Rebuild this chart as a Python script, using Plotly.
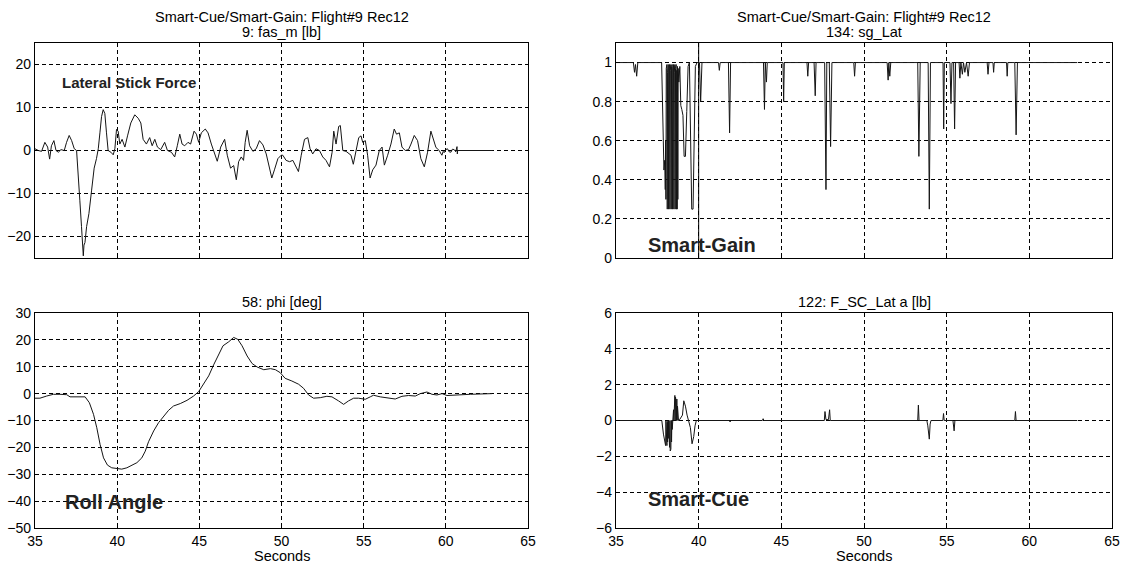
import plotly.graph_objects as go
from plotly.subplots import make_subplots

# ---- 9: fas_m [lb]  (lateral stick force) ----
fas_t = [35.0, 35.2, 35.4, 35.6, 35.77, 35.89, 36.0, 36.15, 36.28, 36.42, 36.58, 36.78, 36.92, 37.08,
         37.23, 37.39, 37.53, 37.63, 37.73, 37.83, 37.9, 37.94, 37.98, 38.04, 38.14, 38.28, 38.44, 38.6,
         38.74, 38.85, 38.95, 39.05, 39.15, 39.25, 39.35, 39.45, 39.62, 39.76, 39.86, 39.96, 40.06, 40.16,
         40.3, 40.47, 40.63, 40.83, 41.07, 41.28, 41.44, 41.58, 41.78, 41.98, 42.13, 42.29, 42.45, 42.65,
         42.89, 43.06, 43.3, 43.5, 43.66, 43.81, 43.95, 44.11, 44.31, 44.47, 44.68, 44.82, 44.96, 45.12,
         45.36, 45.53, 45.73, 45.93, 46.09, 46.3, 46.54, 46.7, 46.9, 47.09, 47.25, 47.39, 47.55, 47.69,
         47.79, 47.91, 48.06, 48.26, 48.46, 48.66, 48.87, 49.07, 49.27, 49.41, 49.57, 49.78, 49.98, 50.08,
         50.28, 50.49, 50.69, 50.89, 51.03, 51.2, 51.4, 51.6, 51.74, 51.9, 52.1, 52.31, 52.51, 52.71,
         52.92, 53.08, 53.18, 53.32, 53.48, 53.58, 53.73, 53.93, 54.13, 54.23, 54.37, 54.54, 54.7, 54.84,
         54.94, 55.1, 55.24, 55.39, 55.55, 55.75, 55.95, 56.12, 56.26, 56.46, 56.66, 56.86, 57.0, 57.17,
         57.33, 57.53, 57.73, 57.88, 58.08, 58.28, 58.48, 58.69, 58.89, 59.09, 59.23, 59.39, 59.5, 59.6,
         59.68, 59.76, 59.84, 59.9, 60.0, 60.1, 60.2, 60.31, 60.4, 60.51, 60.6, 60.68, 60.7, 60.72, 62.85]
fas_v = [0.4, 0.0, -0.2, 1.9, 0.8, -2.0, 1.1, 2.3, 0.0, -0.4, 0.2, 0.0, 1.9, 3.5,
         2.3, 0.4, 0.0, -4.9, -11.7, -17.7, -21.5, -24.5, -22.0, -21.4, -17.7, -14.7, -9.4, -4.1,
         -1.9, 0.4, 4.1, 7.9, 9.5, 8.6, 4.1, 0.0, -0.4, -1.0, 0.4, 4.9, 4.5, 1.5,
         2.6, 0.8, 3.4, 6.4, 8.3, 7.5, 6.4, 2.6, 1.5, 3.0, 1.1, 2.6, 0.8, 0.2,
         1.9, 0.0, -0.4, -1.5, 1.1, 3.8, 1.5, 1.1, 1.9, 1.5, 4.5, 3.8, 1.9, 4.1,
         5.0, 4.1, 1.5, -0.8, -2.5, 0.8, 2.6, -1.1, -4.1, -3.5, -6.8, -2.6, -1.5, -2.3,
         1.9, 4.7, 1.1, -0.2, 0.4, 2.3, 1.3, -0.8, -4.5, -6.4, -4.5, -1.9, -1.1, -1.1,
         -2.3, -2.6, -2.3, -3.8, -4.9, -1.1, 2.6, 3.0, 0.4, -0.8, 0.4, 0.0, -1.5, -2.3,
         -3.8, -0.4, 4.5, 1.5, 5.6, 5.8, 0.0, -0.2, -0.8, -1.1, -3.2, -0.4, 3.0, 3.4,
         1.9, 2.3, -1.1, -6.4, -4.5, -3.4, 0.0, 0.8, -3.4, -1.1, 1.5, 5.0, 3.8, 4.1,
         0.8, 0.0, 0.2, 1.5, 3.5, 2.3, -1.9, -3.8, -0.4, 4.5, 2.6, 0.8, 0.3, 0.0,
         -0.6, -1.1, -0.2, -0.5, 0.2, 0.4, -0.3, -0.4, 0.3, 0.2, -0.3, 0.9, -0.8, 0.0, 0.0]

# ---- 58: phi [deg]  (roll angle) ----
phi_t = [35.0, 35.3, 35.71, 36.12, 36.52, 36.93, 37.13, 37.44, 37.74, 38.05, 38.31, 38.56, 38.76,
         38.96, 39.17, 39.41, 39.67, 39.98, 40.28, 40.59, 40.89, 41.2, 41.5, 41.71, 41.91, 42.22, 42.52,
         42.83, 43.13, 43.43, 43.84, 44.25, 44.65, 44.96, 45.26, 45.57, 45.87, 46.18, 46.44, 46.79,
         47.09, 47.34, 47.6, 47.91, 48.21, 48.52, 48.92, 49.33, 49.63, 49.92, 50.22, 50.63, 51.04,
         51.34, 51.65, 51.95, 52.36, 52.76, 53.07, 53.47, 53.78, 54.08, 54.39, 54.69, 55.1, 55.4, 55.6,
         56.01, 56.42, 56.92, 57.33, 57.73, 58.14, 58.45, 58.85, 59.16, 59.46, 59.77, 60.07, 60.48,
         61.49, 62.81]
phi_v = [-1.7, -1.7, -0.9, -0.25, -0.25, -0.4, -1.2, -1.2, -1.0, -1.2, -3.4, -7.7, -12.7,
         -18.9, -23.9, -26.6, -27.6, -28.0, -28.1, -27.6, -26.6, -25.7, -23.9, -21.4, -17.9, -13.9, -10.8,
         -8.3, -6.2, -4.6, -3.7, -2.5, -0.9, 0.75, 3.7, 6.6, 10.7, 14.7, 17.8, 19.3,
         20.9, 20.2, 17.8, 14.0, 11.2, 9.9, 8.9, 9.3, 8.9, 7.8, 5.7, 4.7, 3.5,
         2.0, -0.5, -1.7, -1.5, -1.0, -1.2, -2.7, -4.0, -2.7, -1.7, -1.7, -2.1, -1.2, -0.6,
         -1.2, -1.5, -2.0, -1.0, -0.7, -0.9, 0.0, 0.6, -0.25, -0.5, 0.0, -0.7, -0.5,
         -0.25, 0.0]

# ---- 134: sg_Lat  (smart-gain) ----
sg_t = [35.0, 36.05, 36.12, 36.18, 36.25, 36.32, 37.76, 37.8, 37.85, 37.9, 37.95, 37.98, 38.0,
        38.02, 38.04, 38.06, 38.08, 38.10, 38.12, 38.14, 38.16, 38.18, 38.20, 38.22, 38.24, 38.26,
        38.28, 38.30, 38.32, 38.34, 38.36, 38.38, 38.40, 38.42, 38.44, 38.46, 38.48, 38.50, 38.52,
        38.54, 38.56, 38.58, 38.60, 38.62, 38.64, 38.66, 38.68, 38.70, 38.72, 38.74, 38.76,
        38.8, 38.86, 38.92, 38.98, 39.05, 39.12, 39.2, 39.28, 39.36, 39.44, 39.5, 39.58, 39.66, 39.72,
        39.8, 39.9, 40.05, 40.12, 40.2, 41.2, 41.25, 41.3, 41.8, 41.87, 41.93, 43.92, 43.98, 44.03,
        44.1, 44.15, 45.1, 45.14, 45.18, 46.55, 46.6, 46.65, 46.98, 47.05, 47.1, 47.62, 47.66, 47.7,
        47.75, 47.9, 47.98, 48.06, 49.38, 49.43, 49.48, 51.4, 51.46, 51.5, 51.56, 51.62, 53.25, 53.32,
        53.4, 53.88, 53.95, 54.02, 54.78, 54.82, 54.86, 55.2, 55.26, 55.32, 55.42, 55.48, 55.54, 55.75,
        55.8, 55.86, 55.95, 56.02, 56.1, 56.2, 56.3, 56.38, 57.45, 57.5, 57.56, 57.8, 57.84, 57.88,
        58.62, 58.66, 58.7, 59.12, 59.2, 59.28, 62.9]
sg_v = [1.0, 1.0, 0.95, 0.99, 0.93, 1.0, 1.0, 0.8, 0.62, 0.45, 0.5, 0.35, 0.6,
        0.3, 0.97, 0.25, 0.99, 0.25, 0.95, 0.25, 0.99, 0.25, 0.97, 0.25, 0.99, 0.25,
        0.96, 0.25, 0.99, 0.25, 0.98, 0.25, 0.99, 0.25, 0.97, 0.25, 0.99, 0.25, 0.95,
        0.25, 0.99, 0.25, 0.97, 0.25, 0.99, 0.25, 0.96, 0.25, 0.98, 0.3, 0.97,
        0.9, 0.98, 0.78, 0.76, 0.73, 0.52, 0.52, 0.75, 0.98, 1.0, 0.6, 0.25, 0.25, 0.5,
        0.98, 1.0, 1.0, 0.8, 1.0, 1.0, 0.96, 1.0, 1.0, 0.64, 1.0, 1.0, 0.76, 1.0,
        0.9, 1.0, 1.0, 0.8, 1.0, 1.0, 0.93, 1.0, 1.0, 0.83, 1.0, 1.0, 0.6, 0.35,
        1.0, 1.0, 0.57, 1.0, 1.0, 0.93, 1.0, 1.0, 0.91, 1.0, 0.93, 1.0, 1.0, 0.52,
        1.0, 1.0, 0.25, 1.0, 1.0, 0.66, 1.0, 1.0, 0.79, 1.0, 1.0, 0.66, 1.0, 1.0,
        0.92, 1.0, 0.94, 1.0, 0.95, 1.0, 0.93, 1.0, 1.0, 0.94, 1.0, 1.0, 0.95, 1.0,
        1.0, 0.93, 1.0, 1.0, 0.63, 1.0, 1.0]
sg_event_t = [40.0]

# ---- 122: F_SC_Lat a [lb]  (smart-cue) ----
sc_t = [35.0, 37.77, 37.87, 37.97,
        38.00, 38.02, 38.04, 38.06, 38.08, 38.10, 38.12, 38.14, 38.16, 38.18, 38.20, 38.22, 38.24,
        38.26, 38.28, 38.30, 38.32, 38.34, 38.36, 38.38, 38.40, 38.42,
        38.44, 38.46, 38.48, 38.50, 38.52, 38.54, 38.56, 38.58, 38.60, 38.62, 38.64, 38.66, 38.68,
        38.70, 38.72, 38.74, 38.76, 38.78,
        38.85, 38.95, 39.02, 39.1, 39.2, 39.3, 39.38, 39.5, 39.6, 39.7, 39.78, 39.86,
        41.85, 41.9, 41.95, 43.85, 43.9, 43.95, 47.6, 47.64, 47.7, 47.85, 47.92, 47.96,
        53.25, 53.29, 53.33, 53.8, 53.86, 53.95, 54.0, 54.05, 54.77, 54.81, 54.85,
        55.38, 55.45, 55.5, 59.12, 59.16, 59.2, 62.9]
sc_v = [0.0, 0.0, -0.76, -1.3,
        -1.4, 0.0, -1.3, 0.0, -1.4, -0.1, -1.2, 0.0, -1.0, 0.0, -1.3, 0.0, -1.5,
        0.0, -1.7, 0.0, -1.6, 0.0, -1.2, 0.0, -0.5, 0.0,
        0.3, 0.0, 0.6, 0.0, 0.8, 0.0, 1.4, 0.0, 1.3, 0.1, 1.0, 0.0, 1.2,
        0.0, 0.8, 0.0, 0.6, 0.0,
        0.05, 0.2, 0.3, 1.1, 0.8, 0.3, 0.0, -0.4, -1.3, -0.9, -0.3, 0.0,
        0.0, -0.08, 0.0, 0.0, 0.1, 0.0, 0.0, 0.5, 0.05, 0.05, 0.6, 0.0,
        0.0, 0.86, 0.0, 0.0, -0.3, -1.04, -0.2, 0.0, 0.0, 0.39, 0.0,
        0.0, -0.58, 0.0, 0.0, 0.5, 0.0, 0.0]

W, H = 1125, 566
FONT = "Liberation Sans, Arial, Helvetica, sans-serif"
LINE = dict(color="#151515", width=1)

fig = make_subplots(rows=2, cols=2)
fig.add_trace(go.Scatter(x=fas_t, y=fas_v, mode="lines", line=LINE), row=1, col=1)
fig.add_trace(go.Scatter(x=sg_t, y=sg_v, mode="lines", line=LINE), row=1, col=2)
fig.add_trace(go.Scatter(x=phi_t, y=phi_v, mode="lines", line=LINE), row=2, col=1)
fig.add_trace(go.Scatter(x=sc_t, y=sc_v, mode="lines", line=LINE), row=2, col=2)

# panel placement (pixels -> paper fractions)
x_left = [35 / W, 528 / W]
x_right = [616 / W, 1112 / W]
y_top = [1 - 258 / H, 1 - 43 / H]
y_bot = [1 - 528 / H, 1 - 313 / H]

axis_style = dict(
    automargin=False,
    showline=True, mirror=True, linecolor="black", linewidth=1.3,
    showgrid=True, gridcolor="black", gridwidth=1, griddash="4px,3px",
    zeroline=False, ticks="inside", ticklen=4, tickcolor="black",
    tickfont=dict(family=FONT, size=14, color="black"),
)

for r, c, dom_x, dom_y, show in [(1, 1, x_left, y_top, False), (1, 2, x_right, y_top, False),
                                  (2, 1, x_left, y_bot, True), (2, 2, x_right, y_bot, True)]:
    fig.update_xaxes(domain=dom_x, range=[35, 65], tick0=35, dtick=5, showticklabels=show,
                     row=r, col=c, **axis_style)
    fig.update_yaxes(domain=dom_y, row=r, col=c, **axis_style)

fig.update_yaxes(range=[-25, 25], tick0=0, dtick=10, row=1, col=1)
fig.update_yaxes(range=[0, 1.1], tick0=0, dtick=0.2, row=1, col=2)
fig.update_yaxes(range=[-50, 30], tick0=0, dtick=10, row=2, col=1)
fig.update_yaxes(range=[-6, 6], tick0=0, dtick=2, row=2, col=2)

# solid event marker in the smart-gain panel
for t in sg_event_t:
    fig.add_shape(type="line", xref="x2", yref="y2 domain", x0=t, x1=t, y0=0, y1=1,
                  line=dict(color="black", width=1))


def px_y(py):
    return 1 - py / H


def px_x(px):
    return px / W


annotations = []
cx_left = (35 + 528) / 2
cx_right = (616 + 1112) / 2
for cx, lines in [(cx_left, ["Smart-Cue/Smart-Gain: Flight#9 Rec12", "9: fas_m [lb]"]),
                  (cx_right, ["Smart-Cue/Smart-Gain: Flight#9 Rec12", "134: sg_Lat"])]:
    for i, txt in enumerate(lines):
        annotations.append(dict(text=txt, x=px_x(cx), y=px_y(17 + 15 * i), xref="paper", yref="paper",
                                xanchor="center", yanchor="middle", showarrow=False,
                                font=dict(family=FONT, size=14.5, color="black")))
for cx, txt in [(cx_left, "58: phi [deg]"), (cx_right, "122: F_SC_Lat a [lb]")]:
    annotations.append(dict(text=txt, x=px_x(cx), y=px_y(302), xref="paper", yref="paper",
                            xanchor="center", yanchor="middle", showarrow=False,
                            font=dict(family=FONT, size=14.5, color="black")))
for cx in [cx_left, cx_right]:
    annotations.append(dict(text="Seconds", x=px_x(cx), y=px_y(556), xref="paper", yref="paper",
                            xanchor="center", yanchor="middle", showarrow=False,
                            font=dict(family=FONT, size=14.5, color="black")))

# bold panel labels
for txt, px, py, size in [("Lateral Stick Force", 60, 82, 15), ("Smart-Gain", 646, 245, 20),
                          ("Roll Angle", 63, 502, 20), ("Smart-Cue", 646, 499, 20)]:
    annotations.append(dict(text="<b>" + txt + "</b>", x=px_x(px), y=px_y(py), xref="paper",
                            yref="paper", xanchor="left", yanchor="middle", showarrow=False,
                            font=dict(family=FONT, size=size, color="#222222")))

fig.update_layout(
    width=W, height=H, autosize=False,
    margin=dict(l=0, r=0, t=0, b=0),
    paper_bgcolor="white", plot_bgcolor="white",
    showlegend=False, annotations=annotations,
)

fig.write_html("out.html")
